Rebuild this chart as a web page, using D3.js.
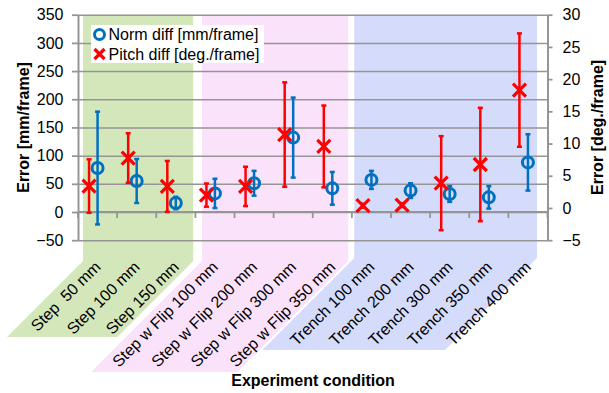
<!DOCTYPE html>
<html>
<head>
<meta charset="utf-8">
<script src="https://cdnjs.cloudflare.com/ajax/libs/d3/7.8.5/d3.min.js"></script>
<style>
body { margin: 0; background: #fff; }
text { font-family: "Liberation Sans", Arial, sans-serif; }
</style>
</head>
<body>
<div id="chart"></div>
<script>
// categories and values
var categories = ["Step  50 mm", "Step 100 mm", "Step 150 mm",
    "Step w Flip 100 mm", "Step w Flip 200 mm", "Step w Flip 300 mm", "Step w Flip 350 mm",
    "Trench 100 mm", "Trench 200 mm", "Trench 300 mm", "Trench 350 mm", "Trench 400 mm"];
var normMean  = [78, 55, 16, 33, 51, 132, 42, 57, 38, 32, 26, 88];
var normErr   = [100, 39, 11, 26, 22, 71, 29, 16, 13, 14, 20, 50];
var pitchMean = [3.4, 7.75, 3.35, 2.0, 3.35, 11.4, 9.55, 0.35, 0.45, 3.85, 6.75, 18.3];
var pitchErr  = [4.15, 3.85, 3.95, 1.8, 3.05, 8.1, 6.35, 0.3, 0.3, 7.3, 8.8, 8.8];
var leftTicks  = [-50, 0, 50, 100, 150, 200, 250, 300, 350];
var rightTicks = [-5, 0, 5, 10, 15, 20, 25, 30];
var groupRanges = [[0, 2], [3, 6], [7, 11]];
var seriesNames = ["Norm diff [mm/frame]", "Pitch diff [deg./frame]"];

function chart(){
    var W = 609, H = 393;
    var left = 78, right = 547.5, top = 14.7, bottom = 240.2;
    var blue = "#0070c0", red = "#ff0000", grey = "#959595";

    var svg = d3.select("#chart").append("svg")
        .attr("width", W).attr("height", H);

    var x = d3.scaleBand().domain(categories).range([left, right]).padding(0);
    var yL = d3.scaleLinear().domain([-50, 350]).range([bottom, top]);
    var yR = d3.scaleLinear().domain([-5, 30]).range([bottom, top]);
    var bw = x.bandwidth();

    // coloured group backgrounds running down under the labels
    var bgColors = ["#d4e7bb", "#fbe2fb", "#d5dbfa"];
    var padL = [5, 6.7, 2.4], padR = [2.2, 3.6, 10.5];
    var knee = [261, 261, 258], drop = [76, 111, 92];
    groupRanges.forEach(function(g, i){
        var x0 = x(categories[g[0]]) + padL[i];
        var x1 = x(categories[g[1]]) + bw - padR[i];
        var pts = [[x0, top], [x1, top], [x1, knee[i]], [x1 - drop[i], knee[i] + drop[i]],
                   [x0 - drop[i], knee[i] + drop[i]], [x0, knee[i]]];
        svg.append("polygon")
            .attr("points", pts.map(function(p){ return p.join(","); }).join(" "))
            .attr("fill", bgColors[i]);
    });

    // gridlines
    var grid = svg.append("g")
        .attr("transform", "translate(" + left + ",0)")
        .call(d3.axisLeft(yL).tickValues(leftTicks).tickSize(-(right - left)).tickFormat(""));
    grid.select(".domain").remove();
    grid.selectAll("line").attr("stroke", grey).attr("stroke-width", 1.5);

    // left axis
    var axL = svg.append("g")
        .attr("transform", "translate(" + left + ",0)")
        .call(d3.axisLeft(yL).tickValues(leftTicks).tickSize(6).tickSizeOuter(0).tickPadding(8.5));
    axL.select(".domain").attr("stroke", grey).attr("stroke-width", 2);
    axL.selectAll("line").attr("stroke", grey).attr("stroke-width", 1.8);
    axL.selectAll("text").attr("font-size", 16).attr("fill", "#000")
        .style("font-family", "'Liberation Sans', Arial, sans-serif");

    // right axis
    var axR = svg.append("g")
        .attr("transform", "translate(" + right + ",0)")
        .call(d3.axisRight(yR).tickValues(rightTicks).tickSize(5).tickSizeOuter(0).tickPadding(10));
    axR.select(".domain").attr("stroke", grey).attr("stroke-width", 2);
    axR.selectAll("line").attr("stroke", grey).attr("stroke-width", 1.8);
    axR.selectAll("text").attr("font-size", 16).attr("fill", "#000")
        .style("font-family", "'Liberation Sans', Arial, sans-serif");

    // category axis at zero
    var y0 = yL(0);
    svg.append("line")
        .attr("x1", left).attr("x2", right).attr("y1", y0).attr("y2", y0)
        .attr("stroke", grey).attr("stroke-width", 2);
    var bounds = categories.map(function(c){ return x(c); }).concat([right]);
    svg.selectAll(".xtick").data(bounds).enter().append("line")
        .attr("class", "xtick")
        .attr("x1", function(d){ return d; }).attr("x2", function(d){ return d; })
        .attr("y1", y0).attr("y2", y0 + 6)
        .attr("stroke", grey).attr("stroke-width", 1.8);

    // rotated category labels
    svg.selectAll(".xlab").data(categories).enter().append("text")
        .attr("class", "xlab")
        .attr("transform", function(d){
            return "translate(" + (x(d) + bw / 2 + 4) + ",268) rotate(-45)";
        })
        .attr("text-anchor", "end")
        .attr("font-size", 16)
        .style("white-space", "pre")
        .text(function(d){ return d; });

    // error bars + markers
    function errBars(cls, means, errs, scale, dx, color){
        var g = svg.append("g").attr("class", cls);
        categories.forEach(function(c, i){
            var cx = x(c) + bw / 2 + dx;
            var yt = scale(means[i] + errs[i]), yb = scale(means[i] - errs[i]);
            g.append("line").attr("x1", cx).attr("x2", cx).attr("y1", yt).attr("y2", yb)
                .attr("stroke", color).attr("stroke-width", 2.5);
            [yt, yb].forEach(function(yy){
                g.append("line").attr("x1", cx - 2.5).attr("x2", cx + 2.5).attr("y1", yy).attr("y2", yy)
                    .attr("stroke", color).attr("stroke-width", 2.5);
            });
        });
    }
    errBars("normErr", normMean, normErr, yL, 0, blue);
    svg.selectAll(".norm").data(normMean).enter().append("circle")
        .attr("class", "norm")
        .attr("cx", function(d, i){ return x(categories[i]) + bw / 2; })
        .attr("cy", function(d){ return yL(d); })
        .attr("r", 5.5)
        .attr("fill", "none").attr("stroke", blue).attr("stroke-width", 3);

    var cross = "M-6.5,-6.5L6.5,6.5M-6.5,6.5L6.5,-6.5";
    errBars("pitchErr", pitchMean, pitchErr, yR, -8.5, red);
    svg.selectAll(".pitch").data(pitchMean).enter().append("path")
        .attr("class", "pitch")
        .attr("transform", function(d, i){
            return "translate(" + (x(categories[i]) + bw / 2 - 8.5) + "," + yR(d) + ")";
        })
        .attr("d", cross)
        .attr("stroke", red).attr("stroke-width", 3.2).attr("fill", "none");

    // legend
    var lg = svg.append("g");
    lg.append("rect").attr("x", 91).attr("y", 25).attr("width", 173).attr("height", 38).attr("fill", "#fff");
    lg.append("circle").attr("cx", 99.5).attr("cy", 34.5).attr("r", 5)
        .attr("fill", "none").attr("stroke", blue).attr("stroke-width", 3);
    lg.append("path").attr("transform", "translate(99.5,54)").attr("d", "M-5,-5L5,5M-5,5L5,-5")
        .attr("stroke", red).attr("stroke-width", 3.2);
    lg.append("text").attr("x", 108.5).attr("y", 40).attr("font-size", 16).text(seriesNames[0]);
    lg.append("text").attr("x", 108.5).attr("y", 59.5).attr("font-size", 16).text(seriesNames[1]);

    // axis titles
    var midY = (top + bottom) / 2;
    svg.append("text")
        .attr("transform", "translate(29," + midY + ") rotate(-90)")
        .attr("text-anchor", "middle").attr("font-size", 16).attr("font-weight", "bold")
        .text("Error [mm/frame]");
    svg.append("text")
        .attr("transform", "translate(603," + midY + ") rotate(-90)")
        .attr("text-anchor", "middle").attr("font-size", 16).attr("font-weight", "bold")
        .text("Error [deg./frame]");
    svg.append("text")
        .attr("x", 313).attr("y", 386)
        .attr("text-anchor", "middle").attr("font-size", 16).attr("font-weight", "bold")
        .text("Experiment condition");
}

chart();
</script>
</body>
</html>
